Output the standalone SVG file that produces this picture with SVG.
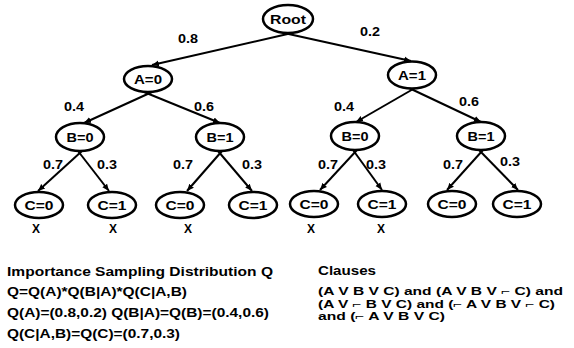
<svg xmlns="http://www.w3.org/2000/svg" width="574" height="348" viewBox="0 0 574 348">
<style>
.n ellipse{fill:#fff;stroke:#000;stroke-width:2.5}
text{font-family:"Liberation Sans",Arial,sans-serif;font-weight:bold;font-size:12px;fill:#000}
.c{text-anchor:middle}
.s{font-size:11px}
.e line{stroke:#000;stroke-width:2;marker-end:url(#ah)}
</style>
<defs>
<marker id="ah" markerUnits="userSpaceOnUse" markerWidth="8" markerHeight="8" refX="7" refY="4" orient="auto">
<path d="M0,1 L7,4 L0,7 Z" fill="#000"/>
</marker>
</defs>
<rect width="574" height="348" fill="#fff"/>
<g id="connectors" class="e">
<line x1="292" y1="33" x2="152" y2="65"/>
<line x1="284" y1="33" x2="411" y2="61"/>
<line x1="152" y1="92" x2="84" y2="123"/>
<line x1="144" y1="92" x2="220" y2="123"/>
<line x1="415" y1="88" x2="356" y2="122"/>
<line x1="409" y1="88" x2="481" y2="122"/>
<line x1="82" y1="151" x2="38" y2="191"/>
<line x1="78" y1="151" x2="109" y2="191"/>
<line x1="222" y1="151" x2="187" y2="191"/>
<line x1="218" y1="151" x2="252" y2="191"/>
<line x1="357" y1="150" x2="320" y2="190"/>
<line x1="353" y1="150" x2="382" y2="190"/>
<line x1="483" y1="150" x2="447" y2="190"/>
<line x1="479" y1="150" x2="518" y2="190"/>
</g>
<g id="edge-labels">
<text x="178" y="43" textLength="20" lengthAdjust="spacingAndGlyphs">0.8</text>
<text x="360" y="36" textLength="20" lengthAdjust="spacingAndGlyphs">0.2</text>
<text x="64" y="111" textLength="20" lengthAdjust="spacingAndGlyphs">0.4</text>
<text x="194" y="111" textLength="20" lengthAdjust="spacingAndGlyphs">0.6</text>
<text x="334" y="111" textLength="20" lengthAdjust="spacingAndGlyphs">0.4</text>
<text x="459" y="106" textLength="20" lengthAdjust="spacingAndGlyphs">0.6</text>
<text x="43" y="169" textLength="20" lengthAdjust="spacingAndGlyphs">0.7</text>
<text x="97" y="169" textLength="20" lengthAdjust="spacingAndGlyphs">0.3</text>
<text x="173" y="169" textLength="20" lengthAdjust="spacingAndGlyphs">0.7</text>
<text x="242" y="169" textLength="20" lengthAdjust="spacingAndGlyphs">0.3</text>
<text x="318" y="169" textLength="20" lengthAdjust="spacingAndGlyphs">0.7</text>
<text x="366" y="169" textLength="20" lengthAdjust="spacingAndGlyphs">0.3</text>
<text x="443" y="169" textLength="20" lengthAdjust="spacingAndGlyphs">0.7</text>
<text x="500" y="166" textLength="20" lengthAdjust="spacingAndGlyphs">0.3</text>
</g>
<g id="root" class="n"><ellipse cx="288" cy="19" rx="25" ry="14"/><text class="c" x="288" y="23.5" textLength="36" lengthAdjust="spacingAndGlyphs">Root</text></g>
<g id="a0" class="n"><ellipse cx="148" cy="79" rx="24" ry="13"/><text class="c" x="148" y="83.5" textLength="28" lengthAdjust="spacingAndGlyphs">A=0</text></g>
<g id="a1" class="n"><ellipse cx="412" cy="75" rx="24" ry="13.5"/><text class="c" x="412" y="79.5" textLength="28" lengthAdjust="spacingAndGlyphs">A=1</text></g>
<g id="b0l" class="n"><ellipse cx="80" cy="137" rx="24" ry="14"/><text class="c" x="80" y="141.5" textLength="27" lengthAdjust="spacingAndGlyphs">B=0</text></g>
<g id="b1l" class="n"><ellipse cx="220" cy="137" rx="24" ry="14"/><text class="c" x="220" y="141.5" textLength="27" lengthAdjust="spacingAndGlyphs">B=1</text></g>
<g id="b0r" class="n"><ellipse cx="355" cy="136" rx="24" ry="14"/><text class="c" x="355" y="140.5" textLength="27" lengthAdjust="spacingAndGlyphs">B=0</text></g>
<g id="b1r" class="n"><ellipse cx="481" cy="136" rx="24" ry="14"/><text class="c" x="481" y="140.5" textLength="27" lengthAdjust="spacingAndGlyphs">B=1</text></g>
<g id="c1" class="n"><ellipse cx="39" cy="205" rx="24" ry="13"/><text class="c" x="39" y="209.5" textLength="29" lengthAdjust="spacingAndGlyphs">C=0</text></g>
<g id="c2" class="n"><ellipse cx="112" cy="205" rx="24" ry="13"/><text class="c" x="112" y="209.5" textLength="29" lengthAdjust="spacingAndGlyphs">C=1</text></g>
<g id="c3" class="n"><ellipse cx="180" cy="205" rx="24" ry="13"/><text class="c" x="180" y="209.5" textLength="29" lengthAdjust="spacingAndGlyphs">C=0</text></g>
<g id="c4" class="n"><ellipse cx="253" cy="205" rx="24" ry="13"/><text class="c" x="253" y="209.5" textLength="29" lengthAdjust="spacingAndGlyphs">C=1</text></g>
<g id="c5" class="n"><ellipse cx="314" cy="204" rx="24" ry="13"/><text class="c" x="314" y="208.5" textLength="29" lengthAdjust="spacingAndGlyphs">C=0</text></g>
<g id="c6" class="n"><ellipse cx="382" cy="204" rx="24" ry="13"/><text class="c" x="382" y="208.5" textLength="29" lengthAdjust="spacingAndGlyphs">C=1</text></g>
<g id="c7" class="n"><ellipse cx="452" cy="204" rx="24" ry="13"/><text class="c" x="452" y="208.5" textLength="29" lengthAdjust="spacingAndGlyphs">C=0</text></g>
<g id="c8" class="n"><ellipse cx="517" cy="204" rx="24" ry="13"/><text class="c" x="517" y="208.5" textLength="29" lengthAdjust="spacingAndGlyphs">C=1</text></g>
<g id="marks">
<text class="c" x="36" y="233">X</text>
<text class="c" x="113" y="233">X</text>
<text class="c" x="188" y="233">X</text>
<text class="c" x="311" y="233">X</text>
<text class="c" x="381" y="233">X</text>
</g>
<g id="distribution">
<text x="7" y="276" textLength="266" lengthAdjust="spacingAndGlyphs">Importance Sampling Distribution Q</text>
<text x="7" y="296" textLength="180" lengthAdjust="spacingAndGlyphs">Q=Q(A)*Q(B|A)*Q(C|A,B)</text>
<text x="7" y="317" textLength="262" lengthAdjust="spacingAndGlyphs">Q(A)=(0.8,0.2) Q(B|A)=Q(B)=(0.4,0.6)</text>
<text x="7" y="338" textLength="173" lengthAdjust="spacingAndGlyphs">Q(C|A,B)=Q(C)=(0.7,0.3)</text>
</g>
<g id="clauses">
<text x="318" y="275" textLength="58" lengthAdjust="spacingAndGlyphs">Clauses</text>
<text class="s" x="318" y="295" textLength="245" lengthAdjust="spacingAndGlyphs">(A V B V C) and (A V B V ⌐ C) and</text>
<text class="s" x="318" y="307.5" textLength="237" lengthAdjust="spacingAndGlyphs">(A V ⌐ B V C) and (⌐ A V B V ⌐ C)</text>
<text class="s" x="318" y="320" textLength="127" lengthAdjust="spacingAndGlyphs">and (⌐ A V B V C)</text>
</g>
</svg>
